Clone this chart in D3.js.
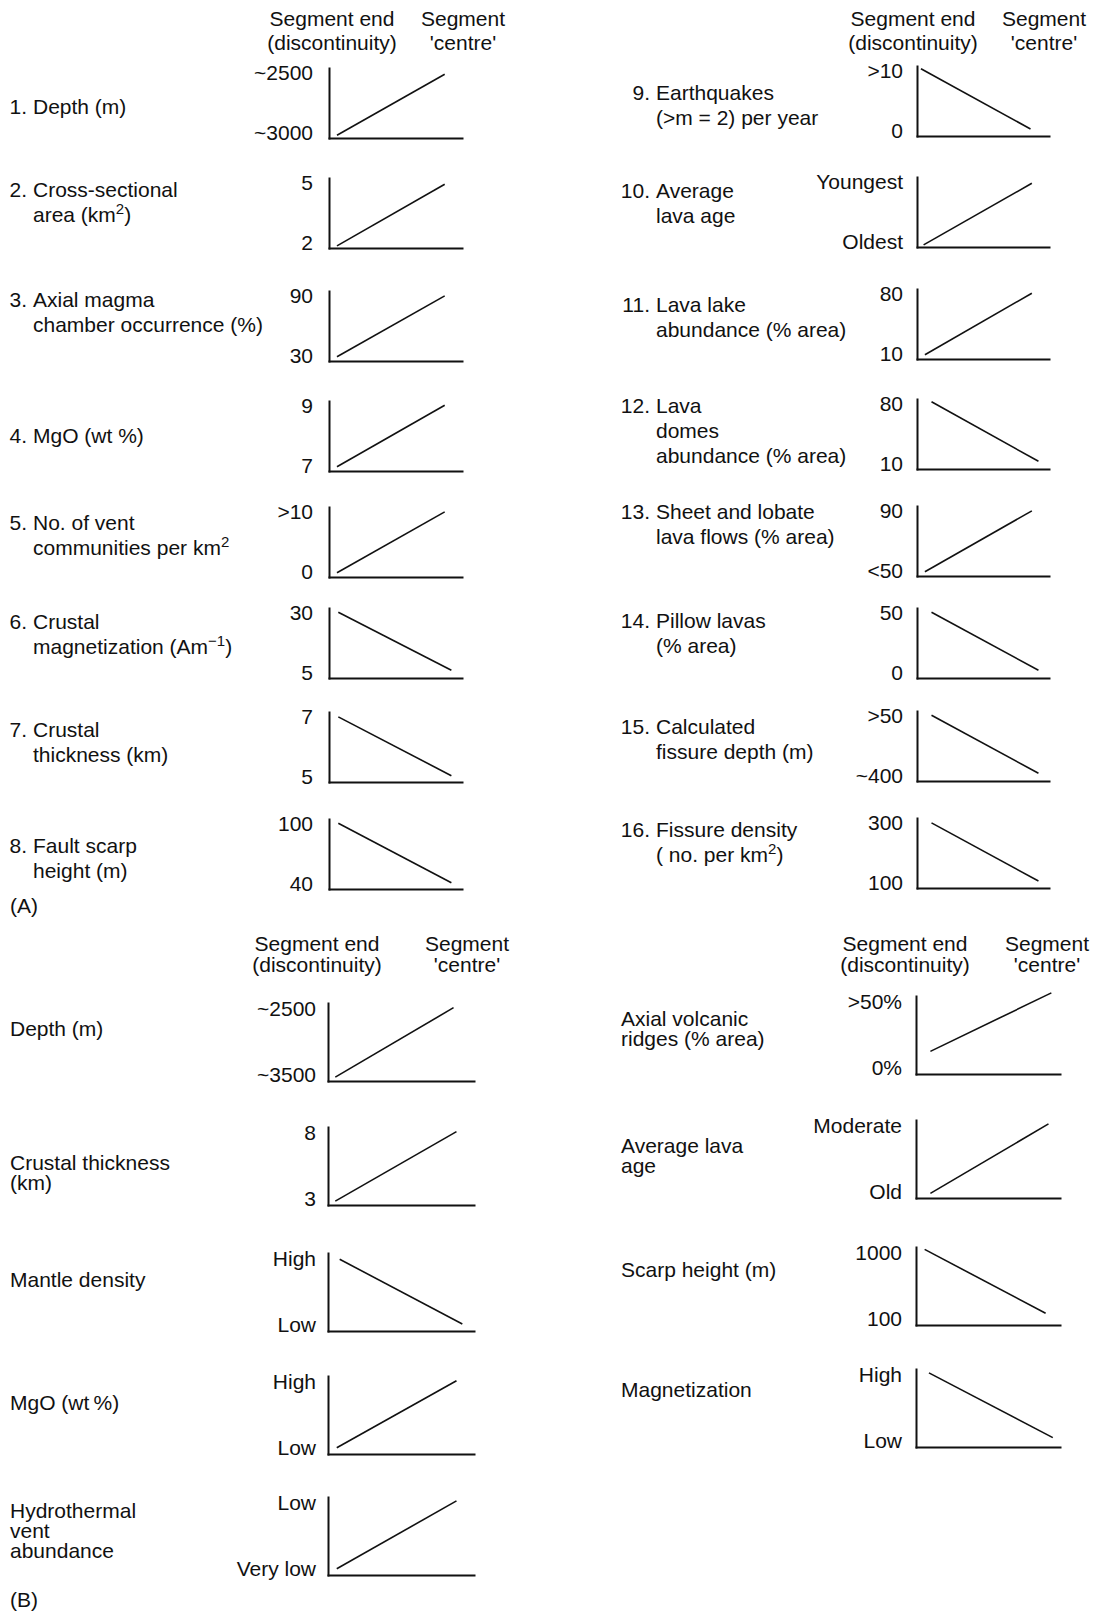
<!DOCTYPE html>
<html><head><meta charset="utf-8">
<script src="https://cdn.jsdelivr.net/npm/d3@7"></script>
<style>
body{margin:0;background:#fff}
svg{display:block}
text{font-family:"Liberation Sans",Arial,Helvetica,sans-serif;font-size:21px;fill:#111}
</style>
</head><body>
<svg id="c" width="1093" height="1613"></svg>
<script>
// ---------- DATA ----------
const headerEnd = ["Segment end", "(discontinuity)"];
const headerCentre = ["Segment", "'centre'"];

// Part (A)
const aNumbers = ["1.","2.","3.","4.","5.","6.","7.","8.","9.","10.","11.","12.","13.","14.","15.","16."];
const aNames = [
  ["Depth (m)"],
  ["Cross-sectional", "area (km^{2})"],
  ["Axial magma", "chamber occurrence (%)"],
  ["MgO (wt %)"],
  ["No. of vent", "communities per km^{2}"],
  ["Crustal", "magnetization (Am^{\u22121})"],
  ["Crustal", "thickness (km)"],
  ["Fault scarp", "height (m)"],
  ["Earthquakes", "(>m = 2) per year"],
  ["Average", "lava age"],
  ["Lava lake", "abundance (% area)"],
  ["Lava", "domes", "abundance (% area)"],
  ["Sheet and lobate", "lava flows (% area)"],
  ["Pillow lavas", "(% area)"],
  ["Calculated", "fissure depth (m)"],
  ["Fissure density", "( no. per km^{2})"]
];
const aHigh = ["~2500","5","90","9",">10","30","7","100",">10","Youngest","80","80","90","50",">50","300"];
const aLow  = ["~3000","2","30","7","0","5","5","40","0","Oldest","10","10","<50","0","~400","100"];
// normalised line ends: x 0 = segment end, 1 = segment centre; y 0 = low label, 1 = high label
const aStartX = [0.06,0.06,0.06,0.06,0.06,0.07,0.07,0.07, 0.03,0.05,0.06,0.11,0.06,0.11,0.11,0.11];
const aStartY = [0.04,0.03,0.06,0.06,0.06,0.94,0.93,0.94, 0.96,0.03,0.06,0.96,0.06,0.94,0.94,0.93];
const aEndX   = [0.87,0.87,0.87,0.87,0.87,0.92,0.92,0.92, 0.86,0.87,0.87,0.92,0.87,0.92,0.92,0.92];
const aEndY   = [0.91,0.91,0.93,0.94,0.93,0.11,0.09,0.09, 0.10,0.91,0.94,0.11,0.93,0.11,0.11,0.10];

// Part (B)
const bNames = [
  ["Depth (m)"],
  ["Crustal thickness", "(km)"],
  ["Mantle density"],
  ["MgO (wt\u2009%)"],
  ["Hydrothermal", "vent", "abundance"],
  ["Axial volcanic", "ridges (% area)"],
  ["Average lava", "age"],
  ["Scarp height (m)"],
  ["Magnetization"]
];
const bHigh = ["~2500","8","High","High","Low",">50%","Moderate","1000","High"];
const bLow  = ["~3500","3","Low","Low","Very low","0%","Old","100","Low"];
const bStartX = [0.05,0.05,0.08,0.06,0.06, 0.10,0.10,0.06,0.09];
const bStartY = [0.05,0.05,0.92,0.08,0.08, 0.29,0.06,0.97,0.95];
const bEndX   = [0.86,0.88,0.92,0.88,0.88, 0.94,0.92,0.90,0.95];
const bEndY   = [0.94,0.94,0.09,0.94,0.95, 1.04,0.95,0.15,0.12];

// ---------- LAYOUT ----------
const layoutA = [
  {idx:[0,1,2,3,4,5,6,7], axisX:329, xEnd:462, h:70, pad:16, step:25, textX:33, numEnd:27,
   bottoms:[138,248,361,471,577,678,782,889], labelY:[114,197,307,443,530,629,737,853]},
  {idx:[8,9,10,11,12,13,14,15], axisX:917, xEnd:1049, h:70, pad:14, step:25, textX:656, numEnd:650,
   bottoms:[136,247,359,469,576,678,781,888], labelY:[100,198,312,413,519,628,734,837]}
];
const layoutB = [
  {idx:[0,1,2,3,4], axisX:328, xEnd:474, h:78, pad:12, step:20, textX:10,
   bottoms:[1081,1205,1331,1454,1575], labelY:[1036,1170,1287,1410,1518]},
  {idx:[5,6,7,8], axisX:916, xEnd:1060, h:78, pad:14, step:20, textX:621,
   bottoms:[1074,1198,1325,1447], labelY:[1026,1153,1277,1397]}
];
const headers = [
  {cx1:332, cx2:463, y:26, step:24},
  {cx1:913, cx2:1044, y:26, step:24},
  {cx1:317, cx2:467, y:951, step:21},
  {cx1:905, cx2:1047, y:951, step:21}
];
const LOW_POS = 0.08, HIGH_POS = 0.93;

const svg = d3.select("#c");

function richText(parent, str, x, y, anchor) {
  const t = parent.append("text").attr("x", x).attr("y", y).attr("text-anchor", anchor || "start");
  const parts = str.split(/(\^\{[^}]*\})/).filter(p => p.length);
  let raised = false;
  parts.forEach(p => {
    if (p.startsWith("^{")) {
      t.append("tspan").attr("dy", -8).style("font-size", "15px").text(p.slice(2, -1));
      raised = true;
    } else {
      const ts = t.append("tspan").text(p);
      if (raised) { ts.attr("dy", 8); raised = false; }
    }
  });
  return t;
}

// headers
headers.forEach(hd => {
  headerEnd.forEach((s, i) => svg.append("text").attr("x", hd.cx1).attr("y", hd.y + i*hd.step).attr("text-anchor","middle").text(s));
  headerCentre.forEach((s, i) => svg.append("text").attr("x", hd.cx2).attr("y", hd.y + i*hd.step).attr("text-anchor","middle").text(s));
});

function drawPanel(L, k, names, nums, high, low, sx, sy, ex, ey) {
  const i = L.idx[k];
  const bottom = L.bottoms[k];
  const x = d3.scaleLinear().domain([0, 1]).range([L.axisX, L.xEnd]);
  const y = d3.scaleLinear().domain([0, 1]).range([bottom, bottom - L.h]);
  const g = svg.append("g");

  const yAx = g.append("g").attr("transform", `translate(${L.axisX},0)`)
    .call(d3.axisLeft(y).tickValues([LOW_POS, HIGH_POS]).tickSize(0).tickSizeOuter(0)
      .tickPadding(L.pad).tickFormat(d => d === LOW_POS ? low[i] : high[i]));
  yAx.attr("font-size", null).attr("font-family", null);
  yAx.select(".domain").attr("stroke", "#111").attr("stroke-width", 2).attr("stroke-linecap", "square");

  const xAx = g.append("g").attr("transform", `translate(0,${bottom})`)
    .call(d3.axisBottom(x).tickValues([]).tickSizeOuter(0));
  xAx.select(".domain").attr("stroke", "#111").attr("stroke-width", 2).attr("stroke-linecap", "square");

  const line = d3.line().x(d => x(d[0])).y(d => y(d[1]));
  g.append("path").datum([[sx[i], sy[i]], [ex[i], ey[i]]])
    .attr("d", line).attr("fill", "none").attr("stroke", "#111").attr("stroke-width", 1.6);

  // label
  if (nums) svg.append("text").attr("x", L.numEnd).attr("y", L.labelY[k]).attr("text-anchor", "end").text(nums[i]);
  names[i].forEach((s, j) => richText(svg, s, L.textX, L.labelY[k] + j * L.step));
}

layoutA.forEach(L => L.idx.forEach((_, k) => drawPanel(L, k, aNames, aNumbers, aHigh, aLow, aStartX, aStartY, aEndX, aEndY)));
layoutB.forEach(L => L.idx.forEach((_, k) => drawPanel(L, k, bNames, null, bHigh, bLow, bStartX, bStartY, bEndX, bEndY)));

svg.append("text").attr("x", 10).attr("y", 913).text("(A)");
svg.append("text").attr("x", 10).attr("y", 1607).text("(B)");
</script>
</body></html>
